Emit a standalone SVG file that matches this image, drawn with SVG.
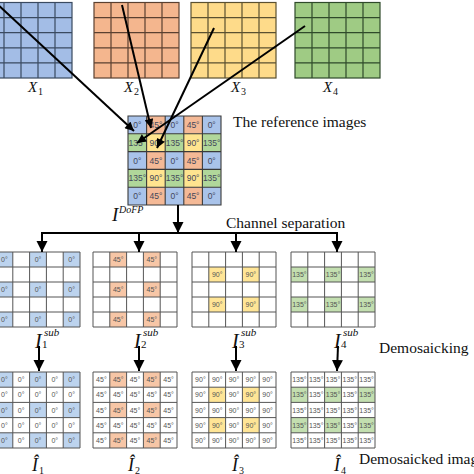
<svg xmlns="http://www.w3.org/2000/svg" width="474" height="474" viewBox="0 0 474 474">
<style>
.bg{fill:#fff}
.g{fill:none;stroke:#3a3a3a;stroke-width:1.1}
.gs{fill:none;stroke:#555;stroke-width:1}
.t{font-family:"Liberation Sans",Arial,sans-serif;font-size:7px;fill:#555;text-anchor:middle}
.tm{font-family:"Liberation Sans",Arial,sans-serif;font-size:8.5px;fill:#44475a;text-anchor:middle}
.lbl{font-family:"Liberation Serif","Times New Roman",serif;font-size:15.5px;fill:#111}
.it{font-family:"Liberation Serif","Times New Roman",serif;font-style:italic;fill:#111}
.up{font-family:"Liberation Serif","Times New Roman",serif;font-style:normal;fill:#111}
.arr{stroke:#000;stroke-width:2;fill:none}
.b{fill:#bcd3ee}.o{fill:#f7c6a6}.y{fill:#ffe596}.gr{fill:#c3dfb0}
.mb{fill:#a9c3ea}.mo{fill:#f4b996}.my{fill:#ffe48f}.mg{fill:#b0d79a}
</style>
<defs>
<marker id="ah" viewBox="0 0 10 10" refX="10" refY="5" markerWidth="11" markerHeight="12" markerUnits="userSpaceOnUse" orient="auto"><path d="M0,0 L10,5 L0,10 z" fill="#000"/></marker>
<marker id="ahs" viewBox="0 0 10 10" refX="10" refY="5" markerWidth="10" markerHeight="9" markerUnits="userSpaceOnUse" orient="auto"><path d="M0,0 L10,5 L0,10 z" fill="#000"/></marker>
</defs>
<rect class="bg" x="0" y="0" width="474" height="474"/>

<!-- Reference images -->
<g id="X1">
<rect x="-13" y="2.5" width="85" height="75.5" fill="#a3bde6" stroke="#3a4a60" stroke-width="1.2"/>
<path d="M4 2.5V78M21 2.5V78M38 2.5V78M55 2.5V78M-13 17.6H72M-13 32.7H72M-13 47.8H72M-13 62.9H72" fill="none" stroke="#3a4a60" stroke-width="1.2"/>
<text class="it" x="28" y="92" font-size="15">X</text><text class="up" x="38" y="95" font-size="10">1</text>
</g>
<g id="X2">
<rect x="94" y="2.5" width="85" height="75.5" fill="#f4b68e" stroke="#5a4030" stroke-width="1.2"/>
<path d="M111 2.5V78M128 2.5V78M145 2.5V78M162 2.5V78M94 17.6H179M94 32.7H179M94 47.8H179M94 62.9H179" fill="none" stroke="#5a4030" stroke-width="1.2"/>
<text class="it" x="124" y="92" font-size="15">X</text><text class="up" x="134" y="95" font-size="10">2</text>
</g>
<g id="X3">
<rect x="191" y="2.5" width="85" height="75.5" fill="#fedb8a" stroke="#5a5030" stroke-width="1.2"/>
<path d="M208 2.5V78M225 2.5V78M242 2.5V78M259 2.5V78M191 17.6H276M191 32.7H276M191 47.8H276M191 62.9H276" fill="none" stroke="#5a5030" stroke-width="1.2"/>
<text class="it" x="231" y="92" font-size="15">X</text><text class="up" x="241" y="95" font-size="10">3</text>
</g>
<g id="X4">
<rect x="295" y="2.5" width="85" height="75.5" fill="#9fcb84" stroke="#2f4a2a" stroke-width="1.2"/>
<path d="M312 2.5V78M329 2.5V78M346 2.5V78M363 2.5V78M295 17.6H380M295 32.7H380M295 47.8H380M295 62.9H380" fill="none" stroke="#2f4a2a" stroke-width="1.2"/>
<text class="it" x="323" y="92" font-size="15">X</text><text class="up" x="333" y="95" font-size="10">4</text>
</g>

<!-- DoFP mosaic -->
<g id="DoFP" transform="translate(128,116)">
<rect class="mb" x="0" y="0" width="18.6" height="17.8"/><rect class="mo" x="18.6" y="0" width="18.6" height="17.8"/><rect class="mb" x="37.2" y="0" width="18.6" height="17.8"/><rect class="mo" x="55.8" y="0" width="18.6" height="17.8"/><rect class="mb" x="74.4" y="0" width="18.6" height="17.8"/>
<rect class="mg" x="0" y="17.8" width="18.6" height="17.8"/><rect class="my" x="18.6" y="17.8" width="18.6" height="17.8"/><rect class="mg" x="37.2" y="17.8" width="18.6" height="17.8"/><rect class="my" x="55.8" y="17.8" width="18.6" height="17.8"/><rect class="mg" x="74.4" y="17.8" width="18.6" height="17.8"/>
<rect class="mb" x="0" y="35.6" width="18.6" height="17.8"/><rect class="mo" x="18.6" y="35.6" width="18.6" height="17.8"/><rect class="mb" x="37.2" y="35.6" width="18.6" height="17.8"/><rect class="mo" x="55.8" y="35.6" width="18.6" height="17.8"/><rect class="mb" x="74.4" y="35.6" width="18.6" height="17.8"/>
<rect class="mg" x="0" y="53.4" width="18.6" height="17.8"/><rect class="my" x="18.6" y="53.4" width="18.6" height="17.8"/><rect class="mg" x="37.2" y="53.4" width="18.6" height="17.8"/><rect class="my" x="55.8" y="53.4" width="18.6" height="17.8"/><rect class="mg" x="74.4" y="53.4" width="18.6" height="17.8"/>
<rect class="mb" x="0" y="71.2" width="18.6" height="17.8"/><rect class="mo" x="18.6" y="71.2" width="18.6" height="17.8"/><rect class="mb" x="37.2" y="71.2" width="18.6" height="17.8"/><rect class="mo" x="55.8" y="71.2" width="18.6" height="17.8"/><rect class="mb" x="74.4" y="71.2" width="18.6" height="17.8"/>
<path class="g" d="M0 0H93V89H0ZM18.6 0V89M37.2 0V89M55.8 0V89M74.4 0V89M0 17.8H93M0 35.6H93M0 53.4H93M0 71.2H93"/>
<text class="tm" x="9.3" y="11.9">0°</text><text class="tm" x="27.9" y="11.9">45°</text><text class="tm" x="46.5" y="11.9">0°</text><text class="tm" x="65.1" y="11.9">45°</text><text class="tm" x="83.7" y="11.9">0°</text>
<text class="tm" x="9.3" y="29.7">135°</text><text class="tm" x="27.9" y="29.7">90°</text><text class="tm" x="46.5" y="29.7">135°</text><text class="tm" x="65.1" y="29.7">90°</text><text class="tm" x="83.7" y="29.7">135°</text>
<text class="tm" x="9.3" y="47.5">0°</text><text class="tm" x="27.9" y="47.5">45°</text><text class="tm" x="46.5" y="47.5">0°</text><text class="tm" x="65.1" y="47.5">45°</text><text class="tm" x="83.7" y="47.5">0°</text>
<text class="tm" x="9.3" y="65.3">135°</text><text class="tm" x="27.9" y="65.3">90°</text><text class="tm" x="46.5" y="65.3">135°</text><text class="tm" x="65.1" y="65.3">90°</text><text class="tm" x="83.7" y="65.3">135°</text>
<text class="tm" x="9.3" y="83.1">0°</text><text class="tm" x="27.9" y="83.1">45°</text><text class="tm" x="46.5" y="83.1">0°</text><text class="tm" x="65.1" y="83.1">45°</text><text class="tm" x="83.7" y="83.1">0°</text>
</g>
<g id="DoFP-label">
<text class="it" x="112" y="221" font-size="19">I</text><text class="it" x="119" y="213" font-size="10">DoFP</text>
</g>

<!-- Sub images -->
<g id="I1sub" transform="translate(-4,252)">
<rect class="b" x="0" y="0" width="16.8" height="15"/><rect class="b" x="33.6" y="0" width="16.8" height="15"/><rect class="b" x="67.2" y="0" width="16.8" height="15"/>
<rect class="b" x="0" y="30" width="16.8" height="15"/><rect class="b" x="33.6" y="30" width="16.8" height="15"/><rect class="b" x="67.2" y="30" width="16.8" height="15"/>
<rect class="b" x="0" y="60" width="16.8" height="15"/><rect class="b" x="33.6" y="60" width="16.8" height="15"/><rect class="b" x="67.2" y="60" width="16.8" height="15"/>
<path class="gs" d="M0 0H84V75H0ZM16.8 0V75M33.6 0V75M50.4 0V75M67.2 0V75M0 15H84M0 30H84M0 45H84M0 60H84"/>
<text class="t" x="8.4" y="10">0°</text><text class="t" x="42" y="10">0°</text><text class="t" x="75.6" y="10">0°</text>
<text class="t" x="8.4" y="40">0°</text><text class="t" x="42" y="40">0°</text><text class="t" x="75.6" y="40">0°</text>
<text class="t" x="8.4" y="70">0°</text><text class="t" x="42" y="70">0°</text><text class="t" x="75.6" y="70">0°</text>
<text class="it" x="39" y="96" font-size="20">I</text><text class="it" x="48" y="84" font-size="11">sub</text><text class="up" x="46" y="96" font-size="11">1</text>
</g>
<g id="I2sub" transform="translate(93,252)">
<rect class="o" x="16.8" y="0" width="16.8" height="15"/><rect class="o" x="50.4" y="0" width="16.8" height="15"/>
<rect class="o" x="16.8" y="30" width="16.8" height="15"/><rect class="o" x="50.4" y="30" width="16.8" height="15"/>
<rect class="o" x="16.8" y="60" width="16.8" height="15"/><rect class="o" x="50.4" y="60" width="16.8" height="15"/>
<path class="gs" d="M0 0H84V75H0ZM16.8 0V75M33.6 0V75M50.4 0V75M67.2 0V75M0 15H84M0 30H84M0 45H84M0 60H84"/>
<text class="t" x="25.2" y="10">45°</text><text class="t" x="58.8" y="10">45°</text>
<text class="t" x="25.2" y="40">45°</text><text class="t" x="58.8" y="40">45°</text>
<text class="t" x="25.2" y="70">45°</text><text class="t" x="58.8" y="70">45°</text>
<text class="it" x="41" y="96" font-size="20">I</text><text class="it" x="50" y="84" font-size="11">sub</text><text class="up" x="48" y="96" font-size="11">2</text>
</g>
<g id="I3sub" transform="translate(192,252)">
<rect class="y" x="16.8" y="15" width="16.8" height="15"/><rect class="y" x="50.4" y="15" width="16.8" height="15"/>
<rect class="y" x="16.8" y="45" width="16.8" height="15"/><rect class="y" x="50.4" y="45" width="16.8" height="15"/>
<path class="gs" d="M0 0H84V75H0ZM16.8 0V75M33.6 0V75M50.4 0V75M67.2 0V75M0 15H84M0 30H84M0 45H84M0 60H84"/>
<text class="t" x="25.2" y="25">90°</text><text class="t" x="58.8" y="25">90°</text>
<text class="t" x="25.2" y="55">90°</text><text class="t" x="58.8" y="55">90°</text>
<text class="it" x="40" y="96" font-size="20">I</text><text class="it" x="49" y="84" font-size="11">sub</text><text class="up" x="47" y="96" font-size="11">3</text>
</g>
<g id="I4sub" transform="translate(291,252)">
<rect class="gr" x="0" y="15" width="16.8" height="15"/><rect class="gr" x="33.6" y="15" width="16.8" height="15"/><rect class="gr" x="67.2" y="15" width="16.8" height="15"/>
<rect class="gr" x="0" y="45" width="16.8" height="15"/><rect class="gr" x="33.6" y="45" width="16.8" height="15"/><rect class="gr" x="67.2" y="45" width="16.8" height="15"/>
<path class="gs" d="M0 0H84V75H0ZM16.8 0V75M33.6 0V75M50.4 0V75M67.2 0V75M0 15H84M0 30H84M0 45H84M0 60H84"/>
<text class="t" x="8.4" y="25">135°</text><text class="t" x="42" y="25">135°</text><text class="t" x="75.6" y="25">135°</text>
<text class="t" x="8.4" y="55">135°</text><text class="t" x="42" y="55">135°</text><text class="t" x="75.6" y="55">135°</text>
<text class="it" x="43" y="96" font-size="20">I</text><text class="it" x="52" y="84" font-size="11">sub</text><text class="up" x="50" y="96" font-size="11">4</text>
</g>

<!-- Demosaicked images -->
<g id="I1hat" transform="translate(-4,372)">
<rect class="b" x="0" y="0" width="16.8" height="15.2"/><rect class="b" x="33.6" y="0" width="16.8" height="15.2"/><rect class="b" x="67.2" y="0" width="16.8" height="15.2"/>
<rect class="b" x="0" y="30.4" width="16.8" height="15.2"/><rect class="b" x="33.6" y="30.4" width="16.8" height="15.2"/><rect class="b" x="67.2" y="30.4" width="16.8" height="15.2"/>
<rect class="b" x="0" y="60.8" width="16.8" height="15.2"/><rect class="b" x="33.6" y="60.8" width="16.8" height="15.2"/><rect class="b" x="67.2" y="60.8" width="16.8" height="15.2"/>
<path class="gs" d="M0 0H84V76H0ZM16.8 0V76M33.6 0V76M50.4 0V76M67.2 0V76M0 15.2H84M0 30.4H84M0 45.6H84M0 60.8H84"/>
<text class="t" x="8.4" y="10.1">0°</text><text class="t" x="25.2" y="10.1">0°</text><text class="t" x="42" y="10.1">0°</text><text class="t" x="58.8" y="10.1">0°</text><text class="t" x="75.6" y="10.1">0°</text>
<text class="t" x="8.4" y="25.3">0°</text><text class="t" x="25.2" y="25.3">0°</text><text class="t" x="42" y="25.3">0°</text><text class="t" x="58.8" y="25.3">0°</text><text class="t" x="75.6" y="25.3">0°</text>
<text class="t" x="8.4" y="40.5">0°</text><text class="t" x="25.2" y="40.5">0°</text><text class="t" x="42" y="40.5">0°</text><text class="t" x="58.8" y="40.5">0°</text><text class="t" x="75.6" y="40.5">0°</text>
<text class="t" x="8.4" y="55.7">0°</text><text class="t" x="25.2" y="55.7">0°</text><text class="t" x="42" y="55.7">0°</text><text class="t" x="58.8" y="55.7">0°</text><text class="t" x="75.6" y="55.7">0°</text>
<text class="t" x="8.4" y="70.9">0°</text><text class="t" x="25.2" y="70.9">0°</text><text class="t" x="42" y="70.9">0°</text><text class="t" x="58.8" y="70.9">0°</text><text class="t" x="75.6" y="70.9">0°</text>
<text class="it" x="36" y="99" font-size="18">Î</text><text class="up" x="43" y="101.5" font-size="10">1</text>
</g>
<g id="I2hat" transform="translate(93,372)">
<rect class="o" x="16.8" y="0" width="16.8" height="15.2"/><rect class="o" x="50.4" y="0" width="16.8" height="15.2"/>
<rect class="o" x="16.8" y="30.4" width="16.8" height="15.2"/><rect class="o" x="50.4" y="30.4" width="16.8" height="15.2"/>
<rect class="o" x="16.8" y="60.8" width="16.8" height="15.2"/><rect class="o" x="50.4" y="60.8" width="16.8" height="15.2"/>
<path class="gs" d="M0 0H84V76H0ZM16.8 0V76M33.6 0V76M50.4 0V76M67.2 0V76M0 15.2H84M0 30.4H84M0 45.6H84M0 60.8H84"/>
<text class="t" x="8.4" y="10.1">45°</text><text class="t" x="25.2" y="10.1">45°</text><text class="t" x="42" y="10.1">45°</text><text class="t" x="58.8" y="10.1">45°</text><text class="t" x="75.6" y="10.1">45°</text>
<text class="t" x="8.4" y="25.3">45°</text><text class="t" x="25.2" y="25.3">45°</text><text class="t" x="42" y="25.3">45°</text><text class="t" x="58.8" y="25.3">45°</text><text class="t" x="75.6" y="25.3">45°</text>
<text class="t" x="8.4" y="40.5">45°</text><text class="t" x="25.2" y="40.5">45°</text><text class="t" x="42" y="40.5">45°</text><text class="t" x="58.8" y="40.5">45°</text><text class="t" x="75.6" y="40.5">45°</text>
<text class="t" x="8.4" y="55.7">45°</text><text class="t" x="25.2" y="55.7">45°</text><text class="t" x="42" y="55.7">45°</text><text class="t" x="58.8" y="55.7">45°</text><text class="t" x="75.6" y="55.7">45°</text>
<text class="t" x="8.4" y="70.9">45°</text><text class="t" x="25.2" y="70.9">45°</text><text class="t" x="42" y="70.9">45°</text><text class="t" x="58.8" y="70.9">45°</text><text class="t" x="75.6" y="70.9">45°</text>
<text class="it" x="35" y="99" font-size="18">Î</text><text class="up" x="42" y="101.5" font-size="10">2</text>
</g>
<g id="I3hat" transform="translate(192,372)">
<rect class="y" x="16.8" y="15.2" width="16.8" height="15.2"/><rect class="y" x="50.4" y="15.2" width="16.8" height="15.2"/>
<rect class="y" x="16.8" y="45.6" width="16.8" height="15.2"/><rect class="y" x="50.4" y="45.6" width="16.8" height="15.2"/>
<path class="gs" d="M0 0H84V76H0ZM16.8 0V76M33.6 0V76M50.4 0V76M67.2 0V76M0 15.2H84M0 30.4H84M0 45.6H84M0 60.8H84"/>
<text class="t" x="8.4" y="10.1">90°</text><text class="t" x="25.2" y="10.1">90°</text><text class="t" x="42" y="10.1">90°</text><text class="t" x="58.8" y="10.1">90°</text><text class="t" x="75.6" y="10.1">90°</text>
<text class="t" x="8.4" y="25.3">90°</text><text class="t" x="25.2" y="25.3">90°</text><text class="t" x="42" y="25.3">90°</text><text class="t" x="58.8" y="25.3">90°</text><text class="t" x="75.6" y="25.3">90°</text>
<text class="t" x="8.4" y="40.5">90°</text><text class="t" x="25.2" y="40.5">90°</text><text class="t" x="42" y="40.5">90°</text><text class="t" x="58.8" y="40.5">90°</text><text class="t" x="75.6" y="40.5">90°</text>
<text class="t" x="8.4" y="55.7">90°</text><text class="t" x="25.2" y="55.7">90°</text><text class="t" x="42" y="55.7">90°</text><text class="t" x="58.8" y="55.7">90°</text><text class="t" x="75.6" y="55.7">90°</text>
<text class="t" x="8.4" y="70.9">90°</text><text class="t" x="25.2" y="70.9">90°</text><text class="t" x="42" y="70.9">90°</text><text class="t" x="58.8" y="70.9">90°</text><text class="t" x="75.6" y="70.9">90°</text>
<text class="it" x="40" y="99" font-size="18">Î</text><text class="up" x="47" y="101.5" font-size="10">3</text>
</g>
<g id="I4hat" transform="translate(291,372)">
<rect class="gr" x="0" y="15.2" width="16.8" height="15.2"/><rect class="gr" x="33.6" y="15.2" width="16.8" height="15.2"/><rect class="gr" x="67.2" y="15.2" width="16.8" height="15.2"/>
<rect class="gr" x="0" y="45.6" width="16.8" height="15.2"/><rect class="gr" x="33.6" y="45.6" width="16.8" height="15.2"/><rect class="gr" x="67.2" y="45.6" width="16.8" height="15.2"/>
<path class="gs" d="M0 0H84V76H0ZM16.8 0V76M33.6 0V76M50.4 0V76M67.2 0V76M0 15.2H84M0 30.4H84M0 45.6H84M0 60.8H84"/>
<text class="t" x="8.4" y="10.1">135°</text><text class="t" x="25.2" y="10.1">135°</text><text class="t" x="42" y="10.1">135°</text><text class="t" x="58.8" y="10.1">135°</text><text class="t" x="75.6" y="10.1">135°</text>
<text class="t" x="8.4" y="25.3">135°</text><text class="t" x="25.2" y="25.3">135°</text><text class="t" x="42" y="25.3">135°</text><text class="t" x="58.8" y="25.3">135°</text><text class="t" x="75.6" y="25.3">135°</text>
<text class="t" x="8.4" y="40.5">135°</text><text class="t" x="25.2" y="40.5">135°</text><text class="t" x="42" y="40.5">135°</text><text class="t" x="58.8" y="40.5">135°</text><text class="t" x="75.6" y="40.5">135°</text>
<text class="t" x="8.4" y="55.7">135°</text><text class="t" x="25.2" y="55.7">135°</text><text class="t" x="42" y="55.7">135°</text><text class="t" x="58.8" y="55.7">135°</text><text class="t" x="75.6" y="55.7">135°</text>
<text class="t" x="8.4" y="70.9">135°</text><text class="t" x="25.2" y="70.9">135°</text><text class="t" x="42" y="70.9">135°</text><text class="t" x="58.8" y="70.9">135°</text><text class="t" x="75.6" y="70.9">135°</text>
<text class="it" x="43" y="99" font-size="18">Î</text><text class="up" x="50" y="101.5" font-size="10">4</text>
</g>

<!-- Stage labels -->
<g id="labels">
<text class="lbl" x="233" y="127" font-size="15">The reference images</text>
<text class="lbl" x="226" y="228">Channel separation</text>
<text class="lbl" x="379" y="353">Demosaicking</text>
<text class="lbl" x="359" y="464" font-size="16">Demosaicked images</text>
</g>

<!-- Connectors -->
<g id="connectors">
<line class="arr" x1="-4" y1="3" x2="134" y2="131" marker-end="url(#ahs)"/>
<line class="arr" x1="122" y1="5" x2="151" y2="128" marker-end="url(#ahs)"/>
<line class="arr" x1="214" y1="28" x2="157" y2="148" marker-end="url(#ahs)"/>
<line class="arr" x1="305" y1="26" x2="137" y2="143" marker-end="url(#ahs)"/>
<line class="arr" x1="178" y1="205" x2="178" y2="233" marker-end="url(#ah)"/>
<path class="arr" d="M41 233H338"/>
<line class="arr" x1="42" y1="232" x2="42" y2="252" marker-end="url(#ah)"/>
<line class="arr" x1="139" y1="232" x2="139" y2="252" marker-end="url(#ah)"/>
<line class="arr" x1="236" y1="232" x2="236" y2="252" marker-end="url(#ah)"/>
<line class="arr" x1="337" y1="232" x2="337" y2="252" marker-end="url(#ah)"/>
<line class="arr" x1="39" y1="346" x2="39" y2="371" marker-end="url(#ah)"/>
<line class="arr" x1="139" y1="346" x2="139" y2="371" marker-end="url(#ah)"/>
<line class="arr" x1="236" y1="346" x2="236" y2="371" marker-end="url(#ah)"/>
<line class="arr" x1="338" y1="346" x2="337" y2="371" marker-end="url(#ah)"/>
</g>
</svg>
